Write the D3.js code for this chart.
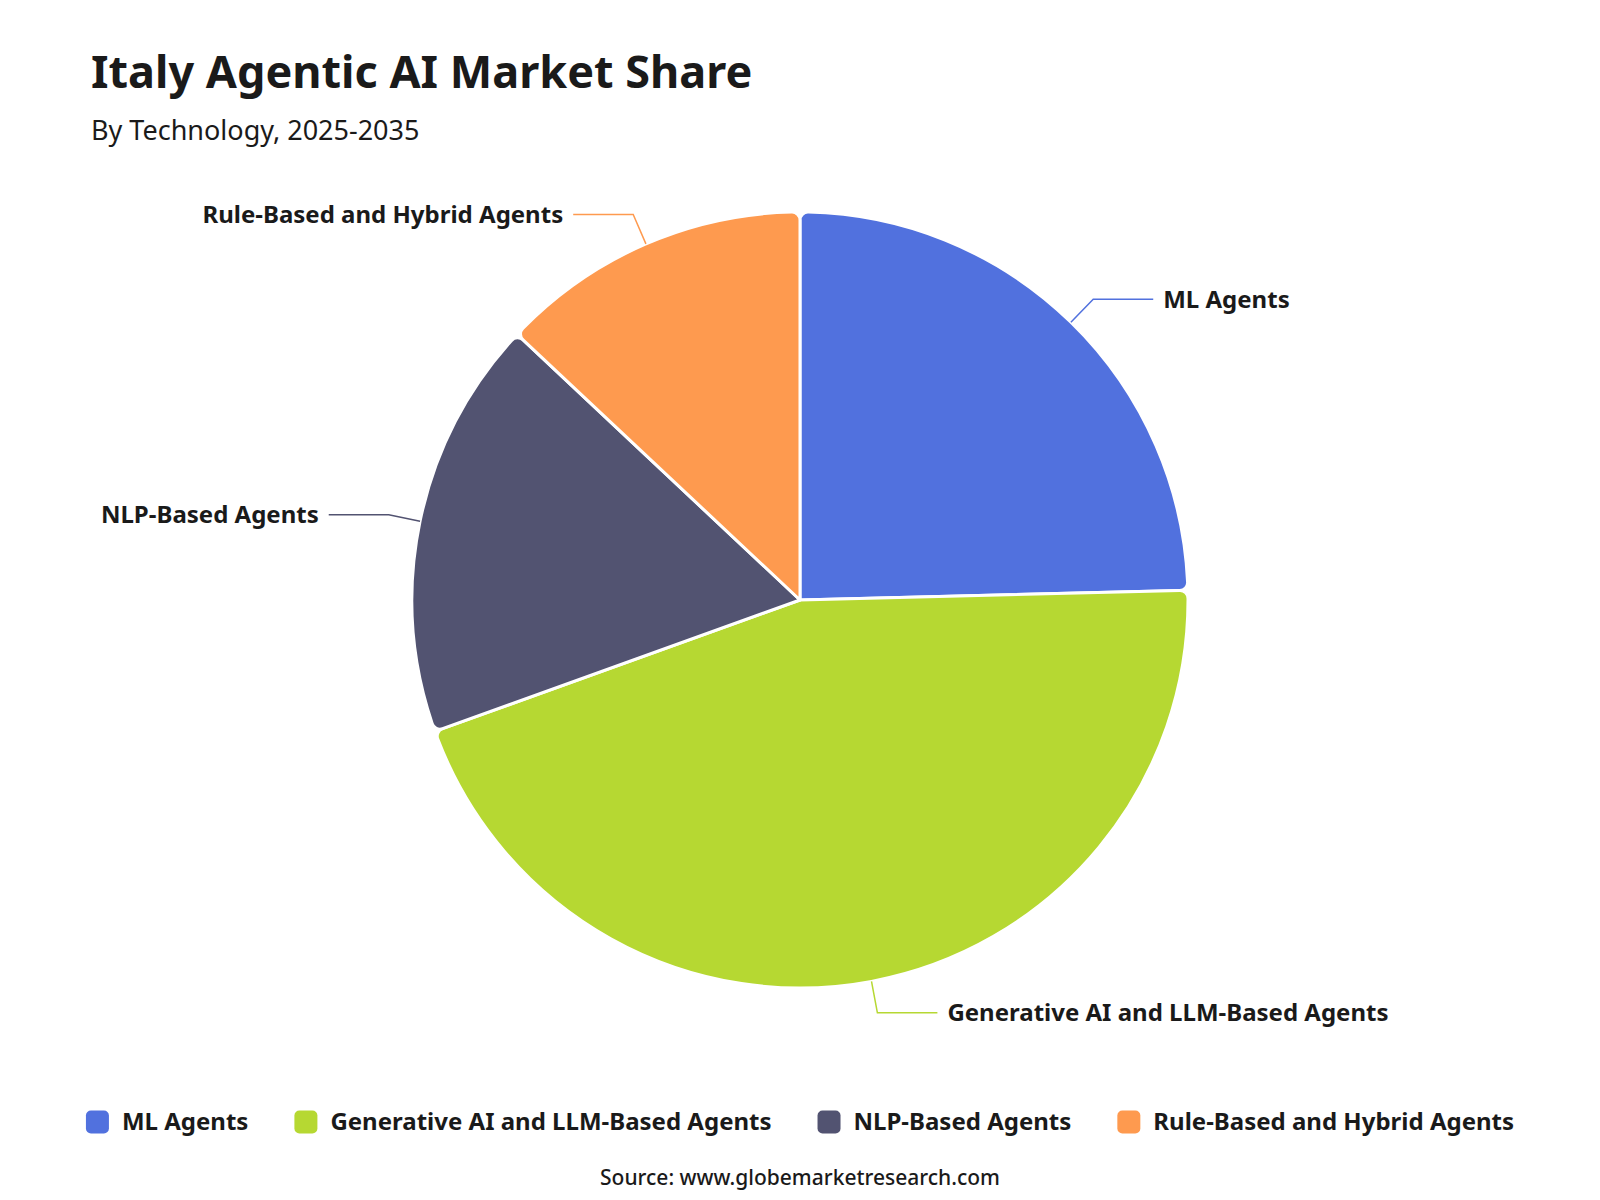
<!DOCTYPE html>
<html>
<head>
<meta charset="utf-8">
<script src="https://cdn.jsdelivr.net/npm/d3@7"></script>
<style>
  html, body { margin: 0; padding: 0; background: #fff; }
  #container { width: 1600px; height: 1200px; }
  text { font-family: "Noto Sans", "Open Sans", sans-serif; }
</style>
</head>
<body>
<div id="container"></div>
<script>
// data
const categories = [
  "ML Agents",
  "Generative AI and LLM-Based Agents",
  "NLP-Based Agents",
  "Rule-Based and Hybrid Agents"
];
const shares = [24.6, 44.9, 17.5, 13.0];
const colors = ["#5171de", "#b6d832", "#525371", "#fe9a4f"];

const title = "Italy Agentic AI Market Share";
const subtitle = "By Technology, 2025-2035";
const source = "Source: www.globemarketresearch.com";

// sizes
const width = 1600,
  height = 1200;
const cx = 800,
  cy = 600,
  radius = 388;
const len1 = 32,
  len2 = 60;

const svg = d3
  .select("#container")
  .append("svg")
  .attr("width", width)
  .attr("height", height)
  .attr("viewBox", [0, 0, width, height]);

// title
svg
  .append("text")
  .attr("x", 91)
  .attr("y", 88)
  .attr("font-size", 45)
  .attr("font-weight", 700)
  .attr("fill", "#1a1a1a")
  .text(title);

svg
  .append("text")
  .attr("x", 91)
  .attr("y", 140)
  .attr("font-size", 27)
  .attr("fill", "#1a1a1a")
  .text(subtitle);

// pie
const data = categories.map((c, i) => ({ name: c, value: shares[i], color: colors[i] }));

const pie = d3
  .pie()
  .sort(null)
  .value((d) => d.value);

const arcs = pie(data);

const arc = d3.arc().innerRadius(0).outerRadius(radius).cornerRadius(8);

const g = svg.append("g").attr("transform", `translate(${cx},${cy})`);

g.selectAll("path.slice")
  .data(arcs)
  .join("path")
  .attr("class", "slice")
  .attr("d", arc)
  .attr("fill", (d) => d.data.color)
  .attr("stroke", "#fff")
  .attr("stroke-width", 3)
  .attr("stroke-linejoin", "round");

// labels with leader lines
const labelG = g.append("g");

arcs.forEach((d) => {
  const a = (d.startAngle + d.endAngle) / 2;
  const right = Math.sin(a) >= 0;
  const p1 = [Math.sin(a) * radius, -Math.cos(a) * radius];
  const p2 = [Math.sin(a) * (radius + len1), -Math.cos(a) * (radius + len1)];
  const p3 = [p2[0] + (right ? len2 : -len2), p2[1]];

  labelG
    .append("polyline")
    .attr("points", [p1, p2, p3].map((p) => p.join(",")).join(" "))
    .attr("fill", "none")
    .attr("stroke", d.data.color)
    .attr("stroke-width", 1.5);

  labelG
    .append("text")
    .attr("x", p3[0] + (right ? 10 : -10))
    .attr("y", p3[1])
    .attr("dy", "0.35em")
    .attr("text-anchor", right ? "start" : "end")
    .attr("font-size", 24)
    .attr("font-weight", 700)
    .attr("fill", "#1a1a1a")
    .text(d.data.name);
});

// legend
const legend = svg.append("g");
const box = 23,
  boxGap = 13,
  itemGap = 46,
  legendY = 1122;

const items = legend
  .selectAll("g")
  .data(data)
  .join("g");

items
  .append("rect")
  .attr("width", box)
  .attr("height", box)
  .attr("y", -box / 2)
  .attr("rx", 5)
  .attr("fill", (d) => d.color);

items
  .append("text")
  .attr("x", box + boxGap)
  .attr("dy", "0.35em")
  .attr("font-size", 24)
  .attr("font-weight", 700)
  .attr("fill", "#1a1a1a")
  .text((d) => d.name);

const widths = [];
items.each(function () {
  widths.push(this.getBBox().width);
});
const total = d3.sum(widths) + itemGap * (widths.length - 1);
let x = (width - total) / 2;
items.attr("transform", (d, i) => {
  const t = `translate(${x},${legendY})`;
  x += widths[i] + itemGap;
  return t;
});

// source
svg
  .append("text")
  .attr("x", width / 2)
  .attr("y", 1185)
  .attr("text-anchor", "middle")
  .attr("font-size", 21)
  .attr("font-weight", 500)
  .attr("fill", "#1a1a1a")
  .text(source);
</script>
</body>
</html>
